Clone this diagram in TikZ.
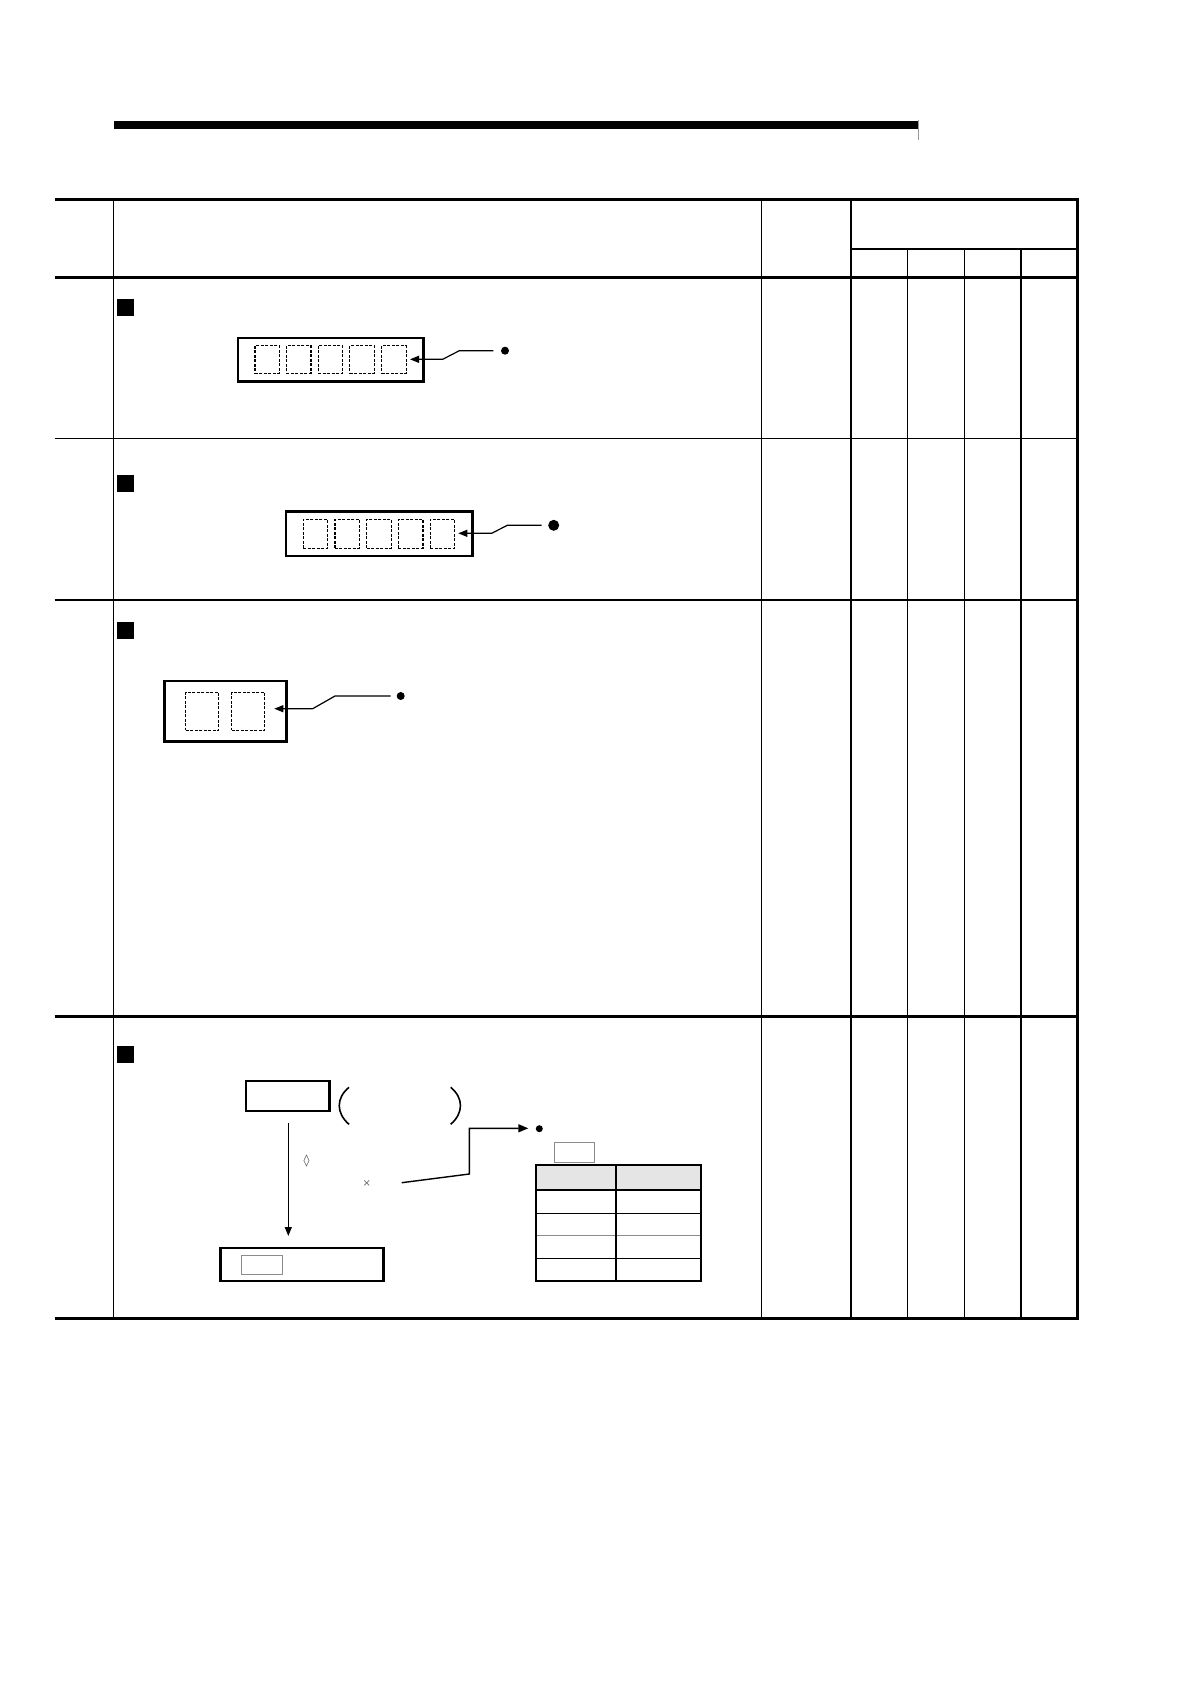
\documentclass[tikz,border=0pt]{standalone}
\usepackage{fontspec}
\newfontfamily\symfont{DejaVu Sans}
\usetikzlibrary{arrows.meta}
\begin{document}
\begin{tikzpicture}[x=1pt,y=-1pt,
  box/.style={draw,line width=2.4pt,inner sep=0pt,outer sep=0pt},
  dbox/.style={draw,dashed,dash pattern=on 3pt off 1.5pt,line width=1.1pt,inner sep=0pt,outer sep=0pt},
  gbox/.style={draw=black!45,line width=1pt,inner sep=0pt,outer sep=0pt},
  marker/.style={fill=black,inner sep=0pt,minimum width=17pt,minimum height=17pt},
  dotn/.style={circle,fill=black,inner sep=0pt},
  lead/.style={line width=1.2pt,-{Triangle[length=9pt,width=7pt]}},
  thickrule/.style={line width=3.2pt},
  medrule/.style={line width=2.2pt},
  thinrule/.style={line width=1.3pt}]
\useasboundingbox (0,0) rectangle (1190,1684);
\fill[white] (0,0) rectangle (1190,1684);

% header bar
\fill (114,120.7) rectangle (918.3,128.7);
\draw[black!40,line width=0.8pt] (918.3,120) -- (918.3,140);

% table frame
\draw[thickrule] (54.5,199.5) -- (1078.9,199.5);
\draw[thickrule] (54.5,277.3) -- (1077.3,277.3);
\draw[medrule] (850.7,249) -- (1077.3,249);
\draw[line width=1.6pt] (54.5,438.3) -- (1077.3,438.3);
\draw[line width=1.6pt] (54.5,600) -- (1077.3,600);
\draw[medrule] (54.5,1016.5) -- (1077.3,1016.5);
\draw[thickrule] (54.5,1318.3) -- (1078.9,1318.3);
\draw[thinrule] (113.3,199.5) -- (113.3,1318.3);
\draw[line width=1.1pt] (761.3,199.5) -- (761.3,1318.3);
\draw[medrule] (850.7,199.5) -- (850.7,1318.3);
\draw[thinrule] (907.5,249) -- (907.5,1318.3);
\draw[thinrule] (964.3,249) -- (964.3,1318.3);
\draw[medrule] (1021.2,249) -- (1021.2,1318.3);
\draw[thickrule] (1077.3,199.5) -- (1077.3,1318.3);

% row markers
\node[marker] (m1) at (125.5,307.8) {};
\node[marker] (m2) at (125.5,483.7) {};
\node[marker] (m3) at (125.5,630.7) {};
\node[marker] (m4) at (125.5,1054.3) {};

% row 1
\node[box,minimum width=185.6pt,minimum height=43.6pt] (b1) at (330.5,359.5) {};
\foreach \i/\cx in {1/267.2,2/298.7,3/330.3,4/362,5/393.8}
  \node[dbox,minimum width=24.5pt,minimum height=27.4pt] (b1s\i) at (\cx,359.5) {};
\node[dotn,minimum size=8pt] (d1) at (505,350.7) {};
\coordinate (s1) at (493.3,350.7);
\coordinate (k1) at (459.3,350.7);
\coordinate (j1) at (442.7,359.3);
\coordinate (t1) at (410,359.3);
\draw[lead] (s1) -- (k1) -- (j1) -- (t1);

% row 2
\node[box,minimum width=186.3pt,minimum height=44.3pt] (b2) at (379.2,533.8) {};
\foreach \i/\cx in {1/315.3,2/347.2,3/378.8,4/410.7,5/442.5}
  \node[dbox,minimum width=24.5pt,minimum height=28.7pt] (b2s\i) at (\cx,533.8) {};
\node[dotn,minimum size=11pt] (d2) at (553.7,525.3) {};
\coordinate (s2) at (541.7,525.3);
\coordinate (k2) at (507.3,525.3);
\coordinate (j2) at (491.7,533.3);
\coordinate (t2) at (458.3,533.3);
\draw[lead] (s2) -- (k2) -- (j2) -- (t2);

% row 3
\node[box,minimum width=122pt,minimum height=60.7pt] (b3) at (225.3,711.3) {};
\node[dbox,minimum width=33pt,minimum height=38pt] (b3s1) at (202.3,711.2) {};
\node[dbox,minimum width=33pt,minimum height=38pt] (b3s2) at (248.3,711.2) {};
\node[dotn,minimum size=8pt] (d3) at (400.7,696) {};
\coordinate (s3) at (390.7,696);
\coordinate (k3) at (335,696);
\coordinate (j3) at (312.7,708.7);
\coordinate (t3) at (274.3,708.7);
\draw[lead] (s3) -- (k3) -- (j3) -- (t3);

% row 4
\node[box,minimum width=83.5pt,minimum height=30pt] (top4) at (287.8,1096) {};
\draw[line width=1.6pt] (349,1087.3) .. controls (336,1098) and (336,1113) .. (349,1124.3);
\draw[line width=1.6pt] (450.7,1087.3) .. controls (463.7,1098) and (463.7,1113) .. (450.7,1124.3);
\coordinate (v4s) at (288.3,1122.7);
\coordinate (v4t) at (288.3,1236);
\draw[lead] (v4s) -- (v4t);
\node[inner sep=0pt,text=black!70,font=\symfont\fontsize{12}{12}\selectfont] (dia) at (306.7,1161) {◊};
\node[inner sep=0pt,text=black!60,font=\symfont\fontsize{10}{10}\selectfont] (tim) at (366.7,1183.3) {×};
\node[box,minimum width=163pt,minimum height=33pt] (bot4) at (301.8,1264.6) {};
\node[gbox,minimum width=41pt,minimum height=19pt] (in4) at (261.9,1265) {};

\coordinate (p1) at (401.7,1182.7);
\coordinate (p2) at (469.3,1174);
\coordinate (p3) at (469.3,1128.3);
\coordinate (p4) at (528.3,1128.3);
\node[dotn,minimum size=7pt] (d4) at (539.3,1128.7) {};
\draw[line width=1.4pt,-{Triangle[length=10pt,width=8pt]}] (p1) -- (p2) -- (p3) -- (p4);

\node[gbox,minimum width=40.5pt,minimum height=19.5pt] (tag4) at (574.7,1152.3) {};

% small table
\fill[black!10] (536,1165) rectangle (701,1190);
\draw[line width=1.3pt] (536,1213.3) -- (701,1213.3);
\draw[black!45,line width=1.3pt] (536,1235.7) -- (701,1235.7);
\draw[line width=1.3pt] (536,1258.7) -- (701,1258.7);
\draw[line width=2.2pt] (536,1190) -- (701,1190);
\draw[line width=1.8pt] (616,1165) -- (616,1281.3);
\draw[line width=2.2pt] (536,1165) rectangle (701,1281.3);
\end{tikzpicture}
\end{document}
